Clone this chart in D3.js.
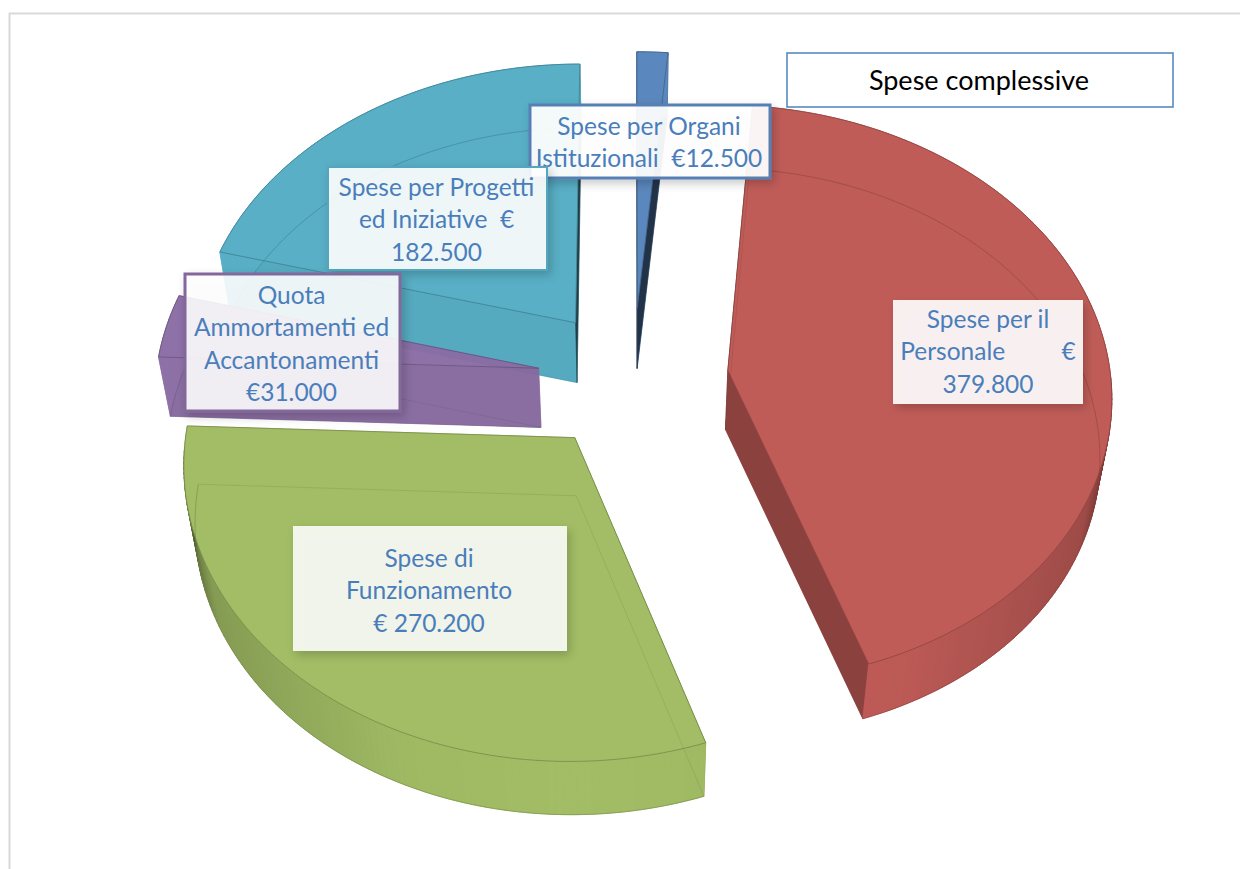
<!DOCTYPE html>
<html>
<head>
<meta charset="utf-8">
<script src="https://d3js.org/d3.v7.min.js"></script>
<style>
  body { margin: 0; background: #fff; }
  text { font-family: Lato, "Open Sans", sans-serif; }
</style>
</head>
<body>
<svg id="mainsvg" width="1240" height="869"></svg>
<script>
// data
const categories = ['Spese per Organi Istituzionali', 'Spese per il Personale', 'Spese di Funzionamento', 'Quota Ammortamenti ed Accantonamenti', 'Spese per Progetti ed Iniziative'];
const values = [12500, 379800, 270200, 31000, 182500];
const colors = ['#5a87bd', '#c05c58', '#a2bd65', '#8a6ca4', '#58afc6'];
const labelLines = [
  ['Spese per Organi', 'Istituzionali  €12.500'],
  ['Spese per il', 'Personale\u00a0\u00a0\u00a0\u00a0\u00a0\u00a0\u00a0\u00a0\u00a0€', '379.800'],
  ['Spese di', 'Funzionamento', '€ 270.200'],
  ['Quota', 'Ammortamenti ed', 'Accantonamenti', '€31.000'],
  ['Spese per Progetti', 'ed Iniziative  €', '182.500']
];
const chartTitle = 'Spese complessive';

// layout of the label boxes: category index, x, y, w, h, border width
const labelBoxes = [
  {i: 0, x: 530, y: 105, w: 240, h: 73, border: 3, opacity: 0.93, baseline: 134},
  {i: 4, x: 328, y: 167, w: 219, h: 103, border: 2, opacity: 0.89, baseline: 195},
  {i: 3, x: 185, y: 274, w: 215, h: 137, border: 3, opacity: 0.88, baseline: 303},
  {i: 1, x: 893, y: 300, w: 190, h: 104, border: 0, opacity: 0.9, baseline: 327},
  {i: 2, x: 293, y: 526, w: 274, h: 125, border: 0, opacity: 0.86, baseline: 566}
];

const svg = d3.select('#mainsvg');
const defs = svg.append('defs');
const shadow = defs.append('filter').attr('id', 'shadow')
  .attr('x', '-10%').attr('y', '-10%').attr('width', '125%').attr('height', '130%');
shadow.append('feDropShadow').attr('dx', 3).attr('dy', 4).attr('stdDeviation', 5)
  .attr('flood-color', '#000').attr('flood-opacity', 0.22);

// grey frame
svg.append('path').attr('d', 'M1240,13.5H9.5V869').attr('fill', 'none').attr('stroke', '#d9d9d9').attr('stroke-width', 2);

// 3D projection of the pie, u/v in units of the radius on the ground plane, h = 0 top, 1 bottom
const cx = 633, cy = 379, radiusX = 383, radiusY = 288;
const persp = 0.08, thick = 59, explode = 0.25;

function project(u, v, h) {
  const s = 1 / (1 + persp * v);
  return [cx + radiusX * u * s * (1 - 0.025 * h),
          cy - radiusY * v * s * (1 - 0.015 * h) + thick * h];
}

const pie = d3.pie().sort(null);
const arcs = pie(values);
const line = d3.line();

// shade of a wall depending where it faces
const rimShade = d3.scaleLinear().domain([0, 0.4, 0.9, 0.97, 1]).range([1, 0.98, 0.82, 0.62, 0.4]).clamp(true);
const radialShade = d3.scaleLinear().domain([0, 0.4, 0.95, 1]).range([0.97, 0.97, 0.72, 0.35]).clamp(true);
const darken = (c, k) => {
  const o = d3.rgb(c);
  return d3.rgb(o.r * k, o.g * k, o.b * k).formatHex();
};

const drawOrder = [0, 4, 3, 1, 2];

drawOrder.forEach(i => {
  const a = arcs[i];
  const col = colors[i];
  const mid = (a.startAngle + a.endAngle) / 2;
  const ox = explode * Math.sin(mid), oy = explode * Math.cos(mid);
  const steps = Math.max(2, Math.ceil((a.endAngle - a.startAngle) * 180 / Math.PI));
  const thetas = d3.range(steps + 1).map(k => a.startAngle + (a.endAngle - a.startAngle) * k / steps);
  const rimPoint = (t, h) => project(ox + Math.sin(t), oy + Math.cos(t), h);
  const apex = h => project(ox, oy, h);
  const face = h => [apex(h), ...thetas.map(t => rimPoint(t, h))];

  const g = svg.append('g').attr('class', 'slice').attr('opacity', i === 3 ? 0.96 : 1);

  // bottom face
  g.append('path').attr('d', line(face(1)) + 'Z').attr('fill', col);

  // radial walls
  [[a.startAngle, a.startAngle - Math.PI / 2], [a.endAngle, a.endAngle + Math.PI / 2]].forEach(([t, n]) => {
    const c = darken(col, radialShade(Math.abs(Math.sin(n))));
    g.append('path')
      .attr('d', line([apex(0), rimPoint(t, 0), rimPoint(t, 1), apex(1)]) + 'Z')
      .attr('fill', c).attr('stroke', c).attr('stroke-width', 0.6);
  });

  // outer wall, one little quad for each degree; only the near half gets dark
  d3.pairs(thetas).forEach(([t0, t1]) => {
    const tm = (t0 + t1) / 2;
    const c = darken(col, Math.cos(tm) > -0.03 ? 1 : rimShade(Math.abs(Math.sin(tm))));
    g.append('path')
      .attr('d', line([rimPoint(t0, 0), rimPoint(t1, 0), rimPoint(t1, 1), rimPoint(t0, 1)]) + 'Z')
      .attr('fill', c).attr('stroke', c).attr('stroke-width', 0.8);
  });

  // top face
  g.append('path').attr('d', line(face(0)) + 'Z')
    .attr('fill', col).attr('stroke', darken(col, 0.76)).attr('stroke-width', 0.9).attr('stroke-linejoin', 'round');

  // hidden edges showing through the glassy top
  g.append('path').attr('d', line(face(1)) + 'Z')
    .attr('fill', 'none').attr('stroke', darken(col, 0.7)).attr('stroke-width', 0.8).attr('stroke-opacity', 0.32);

  // silhouette of the bottom
  g.append('path').attr('d', line(thetas.map(t => rimPoint(t, 1))))
    .attr('fill', 'none').attr('stroke', darken(col, 0.72)).attr('stroke-width', 0.7).attr('stroke-opacity', 0.5);
});

// label boxes
labelBoxes.forEach(b => {
  const g = svg.append('g').attr('class', 'label');
  g.append('rect')
    .attr('x', b.x).attr('y', b.y).attr('width', b.w).attr('height', b.h)
    .attr('fill', '#fff').attr('fill-opacity', b.opacity)
    .attr('stroke', b.border ? darken(colors[b.i], 0.95) : 'none')
    .attr('stroke-width', b.border)
    .attr('filter', 'url(#shadow)');
  labelLines[b.i].forEach((t, k) => {
    g.append('text')
      .attr('x', b.x + b.w / 2 - (b.i === 1 ? 0 : 1))
      .attr('y', b.baseline + 0.5 + k * 32.5)
      .attr('text-anchor', 'middle')
      .attr('font-size', 24.5)
      .attr('fill', '#4a7ebb')
      .style('white-space', 'pre')
      .text(t);
  });
});

// title box
svg.append('rect').attr('x', 787).attr('y', 53).attr('width', 386).attr('height', 54)
  .attr('fill', '#fff').attr('stroke', '#4f81bd').attr('stroke-width', 1.5);
svg.append('text').attr('x', 979).attr('y', 90).attr('text-anchor', 'middle')
  .attr('font-size', 27).attr('fill', '#000').text(chartTitle);
</script>
</body>
</html>
